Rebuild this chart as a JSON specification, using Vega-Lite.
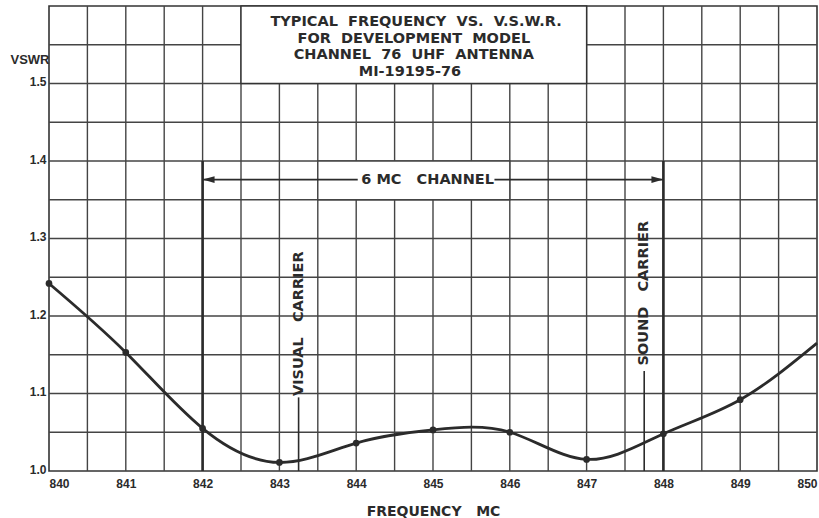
{
  "$schema": "https://vega.github.io/schema/vega-lite/v6.json",
  "width": 768,
  "height": 465,
  "autosize": "none",
  "padding": {"left": 49, "top": 6, "right": 2, "bottom": 47},
  "background": "#ffffff",
  "config": {
    "view": {"stroke": "#333333", "strokeWidth": 1.6},
    "axis": {"grid": false, "domain": false, "ticks": false,
      "labelColor": "#2b2b2b", "titleColor": "#2b2b2b", "labelFont": "Liberation Sans", "labelFontWeight": "bold", "labelFontSize": 12,
      "titleFont": "DejaVu Sans", "titleFontWeight": "bold"}
  },
  "layer": [
    {
      "data": {"values": [
        {"f": 840.5}, {"f": 841}, {"f": 841.5}, {"f": 842}, {"f": 842.5}, {"f": 843}, {"f": 843.5}, {"f": 844}, {"f": 844.5},
        {"f": 845}, {"f": 845.5}, {"f": 846}, {"f": 846.5}, {"f": 847}, {"f": 847.5}, {"f": 848}, {"f": 848.5}, {"f": 849}, {"f": 849.5}
      ]},
      "mark": {"type": "rule", "stroke": "#444444", "strokeWidth": 1.4},
      "encoding": {
        "x": {"field": "f", "type": "quantitative",
          "scale": {"domain": [840, 850], "nice": false, "zero": false},
          "axis": {"values": [840, 841, 842, 843, 844, 845, 846, 847, 848, 849, 850],
            "format": "d", "labelPadding": 7, "labelFlush": true, "labelFlushOffset": 0,
            "title": "FREQUENCY\u00a0\u00a0 MC", "titleFontSize": 14, "titleY": 40, "titleBaseline": "middle"}}
      }
    },
    {
      "data": {"values": [
        {"v": 1.05}, {"v": 1.1}, {"v": 1.15}, {"v": 1.2}, {"v": 1.25}, {"v": 1.3}, {"v": 1.35}, {"v": 1.4}, {"v": 1.45}, {"v": 1.5}, {"v": 1.55}
      ]},
      "mark": {"type": "rule", "stroke": "#444444", "strokeWidth": 1.4},
      "encoding": {
        "y": {"field": "v", "type": "quantitative",
          "scale": {"domain": [1.0, 1.6], "nice": false, "zero": false},
          "axis": {"values": [1.0, 1.1, 1.2, 1.3, 1.4, 1.5],
            "format": ".1f", "labelPadding": 3, "labelBaseline": "middle", "labelOffset": -2,
            "title": "VSWR", "titleAngle": 0, "titleAlign": "right", "titleBaseline": "middle", "titleX": 0, "titleY": 53,
            "titleFont": "Liberation Sans", "titleFontWeight": "bold", "titleFontSize": 13}}
      }
    },
    {
      "data": {"values": [{"f1": 842.5, "f2": 847, "v1": 1.5, "v2": 1.6}]},
      "mark": {"type": "rect", "fill": "#ffffff", "stroke": "#333333", "strokeWidth": 1.4},
      "encoding": {
        "x": {"field": "f1", "type": "quantitative"},
        "x2": {"field": "f2"},
        "y": {"field": "v1", "type": "quantitative"},
        "y2": {"field": "v2"}
      }
    },
    {
      "data": {"values": [{"f1": 843.5, "f2": 846, "v1": 1.35, "v2": 1.4}]},
      "mark": {"type": "rect", "fill": "#ffffff", "stroke": "#444444", "strokeWidth": 1.4},
      "encoding": {
        "x": {"field": "f1", "type": "quantitative"},
        "x2": {"field": "f2"},
        "y": {"field": "v1", "type": "quantitative"},
        "y2": {"field": "v2"}
      }
    },
    {
      "data": {"values": [{"f": 842, "v1": 1.0, "v2": 1.4}, {"f": 848, "v1": 1.0, "v2": 1.4}]},
      "mark": {"type": "rule", "stroke": "#2b2b2b", "strokeWidth": 2.6},
      "encoding": {
        "x": {"field": "f", "type": "quantitative"},
        "y": {"field": "v1", "type": "quantitative"},
        "y2": {"field": "v2"}
      }
    },
    {
      "data": {"values": [{"f": 843.25, "v1": 1.0, "v2": 1.095}, {"f": 847.75, "v1": 1.0, "v2": 1.129}]},
      "mark": {"type": "rule", "stroke": "#2b2b2b", "strokeWidth": 1.6},
      "encoding": {
        "x": {"field": "f", "type": "quantitative"},
        "y": {"field": "v1", "type": "quantitative"},
        "y2": {"field": "v2"}
      }
    },
    {
      "data": {"values": [{"f1": 842, "f2": 844.02, "v": 1.376}, {"f1": 845.8, "f2": 848, "v": 1.376}]},
      "mark": {"type": "rule", "stroke": "#2b2b2b", "strokeWidth": 1.6},
      "encoding": {
        "x": {"field": "f1", "type": "quantitative"},
        "x2": {"field": "f2"},
        "y": {"field": "v", "type": "quantitative"}
      }
    },
    {
      "data": {"values": [{"f": 842.078, "v": 1.376, "dir": "left"}, {"f": 847.922, "v": 1.376, "dir": "right"}]},
      "mark": {"type": "point", "filled": true, "size": 144, "opacity": 1, "color": "#2b2b2b"},
      "encoding": {
        "x": {"field": "f", "type": "quantitative"},
        "y": {"field": "v", "type": "quantitative"},
        "shape": {"field": "dir", "type": "nominal", "legend": null,
          "scale": {"domain": ["left", "right"], "range": ["M -1 0 L 1 -0.55 L 1 0.55 Z", "M 1 0 L -1 -0.55 L -1 0.55 Z"]}}
      }
    },
    {
      "data": {"name": "curve", "values": [
        {"f": 840, "v": 1.242}, {"f": 841, "v": 1.153}, {"f": 842, "v": 1.055}, {"f": 843, "v": 1.011},
        {"f": 844, "v": 1.036}, {"f": 845, "v": 1.053}, {"f": 846, "v": 1.05}, {"f": 847, "v": 1.015},
        {"f": 848, "v": 1.048}, {"f": 849, "v": 1.092}, {"f": 850, "v": 1.165}
      ]},
      "layer": [
        {
          "mark": {"type": "line", "interpolate": "natural", "stroke": "#2b2b2b", "strokeWidth": 2.8},
          "encoding": {
            "x": {"field": "f", "type": "quantitative"},
            "y": {"field": "v", "type": "quantitative"}
          }
        },
        {
          "transform": [{"filter": "datum.f < 850"}],
          "mark": {"type": "circle", "size": 45, "opacity": 1, "color": "#2b2b2b"},
          "encoding": {
            "x": {"field": "f", "type": "quantitative"},
            "y": {"field": "v", "type": "quantitative"}
          }
        }
      ]
    },
    {
      "data": {"values": [
        {"f": 844.78, "v": 1.5795, "t": "TYPICAL\u00a0\u00a0FREQUENCY\u00a0\u00a0VS.\u00a0\u00a0V.S.W.R."},
        {"f": 844.75, "v": 1.558, "t": "FOR\u00a0\u00a0DEVELOPMENT\u00a0\u00a0MODEL"},
        {"f": 844.75, "v": 1.5365, "t": "CHANNEL\u00a0\u00a076\u00a0\u00a0UHF\u00a0\u00a0ANTENNA"},
        {"f": 844.7, "v": 1.5145, "t": "MI-19195-76"},
        {"f": 844.93, "v": 1.376, "t": "6\u00a0MC\u00a0\u00a0\u00a0CHANNEL"}
      ]},
      "mark": {"type": "text", "font": "DejaVu Sans", "fontSize": 14.5, "fontWeight": "bold", "color": "#2b2b2b", "align": "center", "baseline": "middle"},
      "encoding": {
        "x": {"field": "f", "type": "quantitative"},
        "y": {"field": "v", "type": "quantitative"},
        "text": {"field": "t"}
      }
    },
    {
      "data": {"values": [
        {"f": 843.25, "v": 1.19, "t": "VISUAL\u00a0\u00a0\u00a0CARRIER"},
        {"f": 847.75, "v": 1.2295, "t": "SOUND\u00a0\u00a0\u00a0CARRIER"}
      ]},
      "mark": {"type": "text", "font": "DejaVu Sans", "fontSize": 14.5, "fontWeight": "bold", "angle": 270, "color": "#2b2b2b", "align": "center", "baseline": "middle"},
      "encoding": {
        "x": {"field": "f", "type": "quantitative"},
        "y": {"field": "v", "type": "quantitative"},
        "text": {"field": "t"}
      }
    }
  ]
}
